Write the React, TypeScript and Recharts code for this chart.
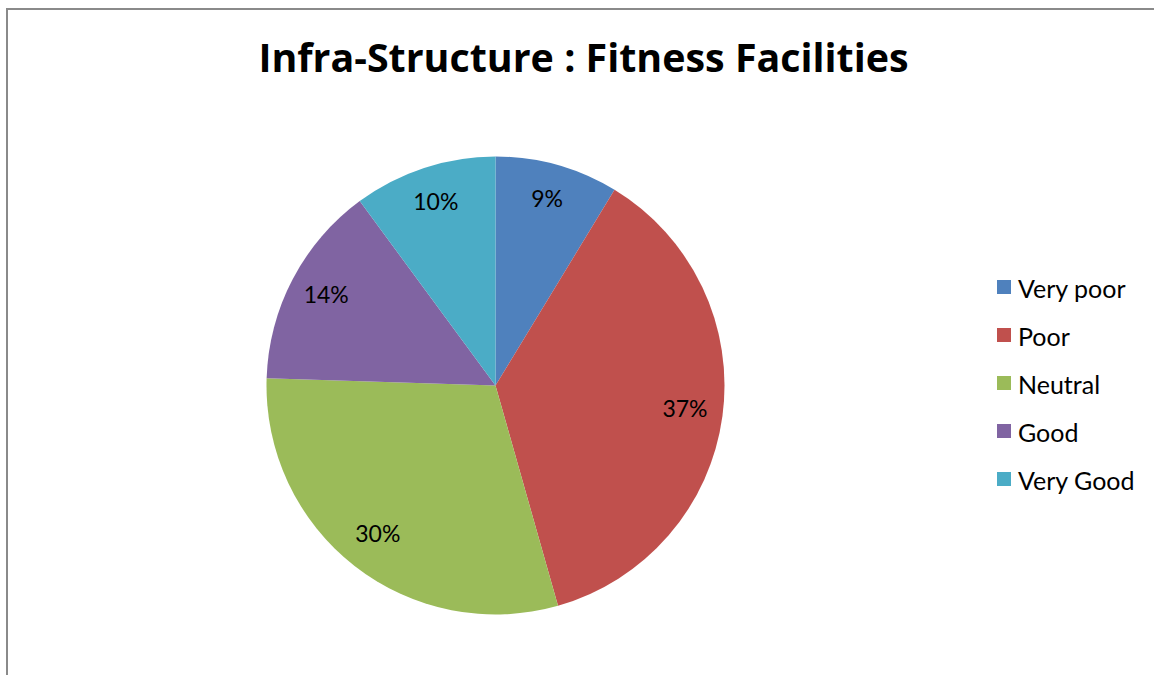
import { PieChart, Pie, Cell } from "recharts";

const CATEGORIES = ["Very poor", "Poor", "Neutral", "Good", "Very Good"];
// shares (%) read from the slice edges; the labels round them
const SHARES = [8.7, 36.9, 29.9, 14.4, 10.1];
const COLORS = ["#4f81bd", "#c0504d", "#9bbb59", "#8064a2", "#4bacc6"];

const data = CATEGORIES.map((name, i) => ({ name, value: SHARES[i] }));

const FONT = "Lato, 'Open Sans', sans-serif";
const RAD = Math.PI / 180;

function renderLabel(props: any) {
  const { cx, cy, midAngle, outerRadius, percent } = props;
  const r = outerRadius * 0.835;
  const x = cx + r * Math.cos(-midAngle * RAD);
  const y = cy + r * Math.sin(-midAngle * RAD) - 3;
  return (
    <text x={x} y={y} textAnchor="middle" dominantBaseline="central" fill="#000" fontSize={23} fontFamily={FONT}>
      {`${Math.round(percent * 100)}%`}
    </text>
  );
}

function LegendBox() {
  return (
    <div style={{ position: "absolute", left: 997, top: 264, fontFamily: FONT, fontSize: 25 }}>
      {data.map((d, i) => (
        <div key={d.name} style={{ display: "flex", alignItems: "center", height: 48 }}>
          <span style={{ width: 14, height: 14, background: COLORS[i], marginRight: 7, marginTop: -2 }} />
          <span>{d.name}</span>
        </div>
      ))}
    </div>
  );
}

export default function App() {
  return (
    <div style={{ position: "fixed", left: 0, top: 0, width: 1154, height: 675, background: "#fff" }}>
      {/* frame: only top and left edges show in the original */}
      <div
        style={{
          position: "absolute",
          left: 6,
          top: 8,
          width: 1160,
          height: 680,
          borderTop: "2px solid #8a8a8a",
          borderLeft: "2px solid #8a8a8a",
        }}
      />
      <div
        style={{
          position: "absolute",
          left: 0,
          width: 1167,
          top: 32,
          textAlign: "center",
          fontFamily: "'Open Sans', sans-serif",
          fontWeight: 700,
          fontSize: 39.4,
          lineHeight: "50px",
          color: "#000",
        }}
      >
        Infra-Structure : Fitness Facilities
      </div>
      <div style={{ position: "absolute", left: 0, top: 0 }}>
        <PieChart width={1154} height={675} margin={{ top: 0, right: 0, bottom: 0, left: 0 }}>
          <Pie
            data={data}
            dataKey="value"
            nameKey="name"
            cx={495.5}
            cy={385.5}
            outerRadius={229}
            startAngle={90}
            endAngle={-270}
            stroke="none"
            labelLine={false}
            label={renderLabel}
            isAnimationActive={false}
          >
            {data.map((d, i) => (
              <Cell key={d.name} fill={COLORS[i]} />
            ))}
          </Pie>
        </PieChart>
      </div>
      <LegendBox />
    </div>
  );
}
